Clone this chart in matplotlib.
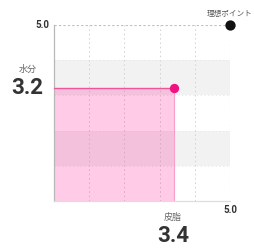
import matplotlib.pyplot as plt
from matplotlib.patches import Rectangle

plt.rcParams['font.family'] = ['Roboto', 'Noto Sans CJK JP', 'DejaVu Sans']

# values
skin_oil = 3.4       # 皮脂 (x)
moisture = 3.2       # 水分 (y)
ideal = (5.0, 5.0)
axis_max = 5.0
grid_ticks = [1, 2, 3, 4]
band_ranges = [(1, 2), (3, 4)]
x_label = "皮脂"
y_label = "水分"
ideal_label = "理想ポイント"


def main():
    fig = plt.figure(figsize=(2.55, 2.49), dpi=100)
    ax = fig.add_axes([54 / 255, 48 / 249, 176 / 255, 176 / 249])
    ax.set_xlim(0, axis_max)
    ax.set_ylim(0, axis_max)

    # grey bands
    for lo, hi in band_ranges:
        ax.axhspan(lo, hi, color="#f2f2f2", zorder=0, lw=0)

    # grid
    for t in grid_ticks:
        ax.axvline(t, color="#d0d0d0", lw=0.7, ls=(0, (1.5, 3)), zorder=1)
        ax.axhline(t, color="#e6e6e6", lw=0.6, ls=(0, (1.5, 3)), zorder=1)
    ax.axvline(axis_max, color="#c8c8c8", lw=0.8, ls=(0, (1.5, 2.5)), zorder=1)
    ax.axhline(axis_max, color="#bdbdbd", lw=0.8, ls=(0, (2, 2)), zorder=1)

    # value rectangle
    ax.add_patch(Rectangle((0, 0), skin_oil, moisture, facecolor="#ff1493",
                           alpha=0.22, lw=0, zorder=2))
    ax.plot([0, skin_oil], [moisture, moisture], color="#f0559c", lw=1.0, zorder=3)
    ax.plot([skin_oil, skin_oil], [0, moisture], color="#f7a0c8", lw=0.8, zorder=3)

    ax.scatter([skin_oil], [moisture], s=45, color="#f2127f", zorder=5, lw=0)
    ax.scatter([ideal[0]], [ideal[1]], s=55, color="#111111", zorder=5, lw=0,
               clip_on=False)

    for s in ["top", "right"]:
        ax.spines[s].set_visible(False)
    ax.spines["left"].set_color("#b8b8b8")
    ax.spines["left"].set_linewidth(0.9)
    ax.spines["bottom"].set_color("#dddddd")
    ax.spines["bottom"].set_linewidth(0.9)
    ax.set_xticks([])
    ax.set_yticks([])

    kw = dict(clip_on=False, transform=ax.transData)
    ax.text(-0.14, axis_max, "5.0", ha="right", va="center", fontsize=7,
            fontweight="bold", color="#333333", **kw)
    ax.text(axis_max, -0.25, "5.0", ha="center", va="center", fontsize=7,
            fontweight="bold", color="#333333", **kw)
    ax.text(axis_max, axis_max + 0.34, ideal_label, ha="center", va="center",
            fontsize=5.5, color="#555555", **kw)

    ax.text(-0.75, moisture + 0.53, y_label, ha="center", va="center",
            fontsize=6.5, color="#666666", **kw)
    ax.text(-0.75, moisture, f"{moisture:.1f}", ha="center", va="center",
            fontsize=16, fontweight="bold", color="#333333", **kw)

    ax.text(skin_oil - 0.02, -0.46, x_label, ha="center", va="center",
            fontsize=6.5, color="#666666", **kw)
    ax.text(skin_oil, -1.0, f"{skin_oil:.1f}", ha="center", va="center",
            fontsize=16, fontweight="bold", color="#333333", **kw)

    fig.savefig("out.png", dpi=100)


if __name__ == "__main__":
    main()
